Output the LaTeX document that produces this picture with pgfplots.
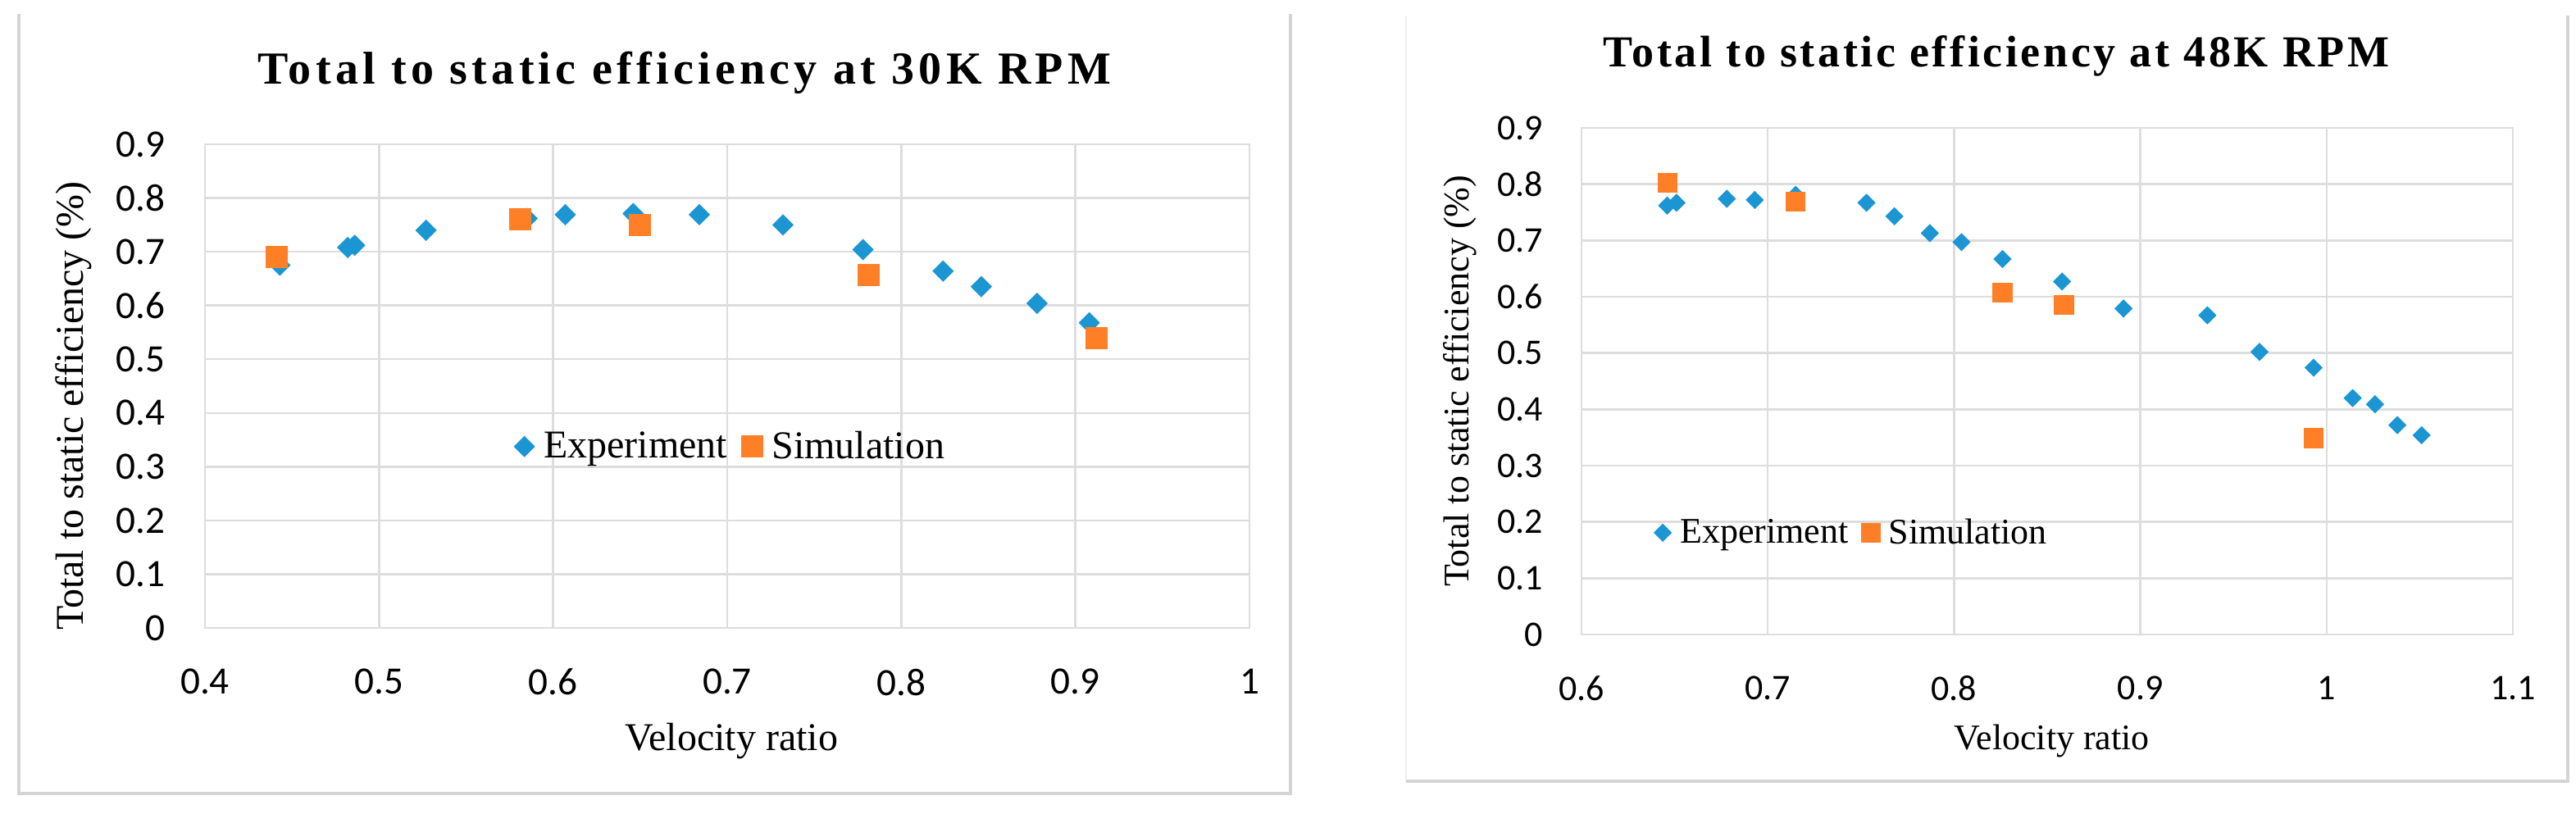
\documentclass[border=0pt]{standalone}
\usepackage{fontspec}
\setmainfont{Liberation Serif}
\newfontfamily\carlito{Carlito}
\newfontfamily\titleA[LetterSpace=9.5]{Liberation Serif}
\newfontfamily\titleB[LetterSpace=6.7]{Liberation Serif}
\usepackage{pgfplots}
\pgfplotsset{compat=1.18}
\definecolor{expblue}{HTML}{1B96D3}
\definecolor{simorange}{HTML}{FF7F27}
\definecolor{gridgray}{HTML}{DDDDDD}
\definecolor{framegray}{HTML}{D4D4D4}

\pgfplotsset{
  effchart/.style={
    scale only axis, ymin=0, ymax=0.9,
    ytick={0,0.1,0.2,0.3,0.4,0.5,0.6,0.7,0.8,0.9},
    grid=major,
    major grid style={draw=gridgray, line width=0.6pt},
    axis line style={draw=gridgray, line width=0.6pt},
    major tick length=0pt,
    /pgf/number format/assume math mode=true,
    yticklabel style={anchor=east, inner sep=0pt},
    xticklabel style={anchor=north, inner sep=0pt},
    legend cell align=left,
    legend style={draw=none, fill=none, inner sep=0pt, outer sep=0pt,
      legend columns=2, anchor=west, nodes={inner sep=0pt}},
    legend image code/.code={\draw[#1] plot coordinates {(0pt,0.3pt)};},
    ylabel={Total to static efficiency (\%)},
    xlabel={Velocity ratio},
  },
}

\begin{document}
\begin{tikzpicture}
\useasboundingbox (0,0) rectangle (785.5pt,-248.25pt);

% chart frames
\draw[framegray, line width=1pt] (5.75pt,-4.25pt) -- (5.75pt,-242pt) -- (393.5pt,-242pt) -- (393.5pt,-4.25pt);
\draw[framegray!40, line width=0.5pt] (428.75pt,-4.75pt) -- (428.75pt,-238.25pt);
\draw[framegray, line width=1pt] (428.75pt,-238.25pt) -- (783pt,-238.25pt) -- (783pt,-4.75pt);

% 30K RPM
\begin{axis}[effchart,
    at={(62.5pt,-191.5pt)}, anchor=south west,
    width=318.5pt, height=147.5pt,
    xmin=0.4, xmax=1.0,
    xtick={0.4,0.5,0.6,0.7,0.8,0.9,1.0},
    tick label style={font=\carlito\fontsize{11.8}{14}\selectfont},
    yticklabel style={xshift=-12pt},
    xticklabel style={yshift=-12.25pt},
    label style={font=\fontsize{12}{14}\selectfont},
    ylabel style={at={(axis description cs:-0.1256,0.459)}, anchor=center},
    xlabel style={at={(axis description cs:0.504,-0.234)}, anchor=center},
    title={Total to static efficiency at 30K RPM},
    title style={at={(axis description cs:0.459,1.0834)}, anchor=base,
      font=\titleA\bfseries\fontsize{14}{16}\selectfont},
    legend style={at={(axis description cs:0.296,0.373)},
      font=\fontsize{12}{14}\selectfont,
      /tikz/every odd column/.append style={column sep=2.8pt},
      /tikz/every even column/.append style={column sep=4.25pt}},
  ]
\addplot[only marks, color=expblue, mark=square*, mark size=2.2pt,
  mark options={rotate=45, fill=expblue, line width=0.2pt}] coordinates {
(0.443, 0.675)
(0.482, 0.708)
(0.486, 0.712)
(0.527, 0.740)
(0.585, 0.762)
(0.607, 0.769)
(0.646, 0.771)
(0.684, 0.769)
(0.732, 0.750)
(0.778, 0.704)
(0.824, 0.664)
(0.846, 0.635)
(0.878, 0.604)
(0.908, 0.568)
};
\addplot[only marks, color=simorange, mark=square*, mark size=3.25pt,
  mark options={fill=simorange, line width=0.2pt}] coordinates {
(0.441, 0.690)
(0.581, 0.760)
(0.650, 0.750)
(0.781, 0.657)
(0.912, 0.540)
};
\legend{Experiment,Simulation}
\end{axis}

% 48K RPM
\begin{axis}[effchart,
    at={(482.25pt,-193.5pt)}, anchor=south west,
    width=284pt, height=154.5pt,
    xmin=0.6, xmax=1.1,
    xtick={0.6,0.7,0.8,0.9,1.0,1.1},
    tick label style={font=\carlito\fontsize{11}{13}\selectfont},
    yticklabel style={xshift=-11.5pt},
    xticklabel style={yshift=-12.5pt},
    label style={font=\fontsize{11}{13}\selectfont},
    ylabel style={at={(axis description cs:-0.1303,0.5)}, anchor=center},
    xlabel style={at={(axis description cs:0.505,-0.21)}, anchor=center},
    title={Total to static efficiency at 48K RPM},
    title style={at={(axis description cs:0.4454,1.081)}, anchor=base,
      font=\titleB\bfseries\fontsize{13.5}{15}\selectfont},
    legend style={at={(axis description cs:0.078,0.199)},
      font=\fontsize{11}{13}\selectfont,
      /tikz/every odd column/.append style={column sep=2.65pt},
      /tikz/every even column/.append style={column sep=3.85pt}},
  ]
\addplot[only marks, color=expblue, mark=square*, mark size=1.86pt,
  mark options={rotate=45, fill=expblue, line width=0.2pt}] coordinates {
(0.646, 0.762)
(0.651, 0.767)
(0.678, 0.774)
(0.693, 0.772)
(0.715, 0.781)
(0.753, 0.767)
(0.768, 0.743)
(0.787, 0.713)
(0.804, 0.697)
(0.826, 0.667)
(0.858, 0.627)
(0.891, 0.579)
(0.936, 0.567)
(0.964, 0.502)
(0.993, 0.474)
(1.014, 0.420)
(1.026, 0.409)
(1.038, 0.372)
(1.051, 0.354)
};
\addplot[only marks, color=simorange, mark=square*, mark size=2.9pt,
  mark options={fill=simorange, line width=0.2pt}] coordinates {
(0.646, 0.803)
(0.715, 0.769)
(0.826, 0.607)
(0.859, 0.586)
(0.993, 0.349)
};
\legend{Experiment,Simulation}
\end{axis}
\end{tikzpicture}
\end{document}
